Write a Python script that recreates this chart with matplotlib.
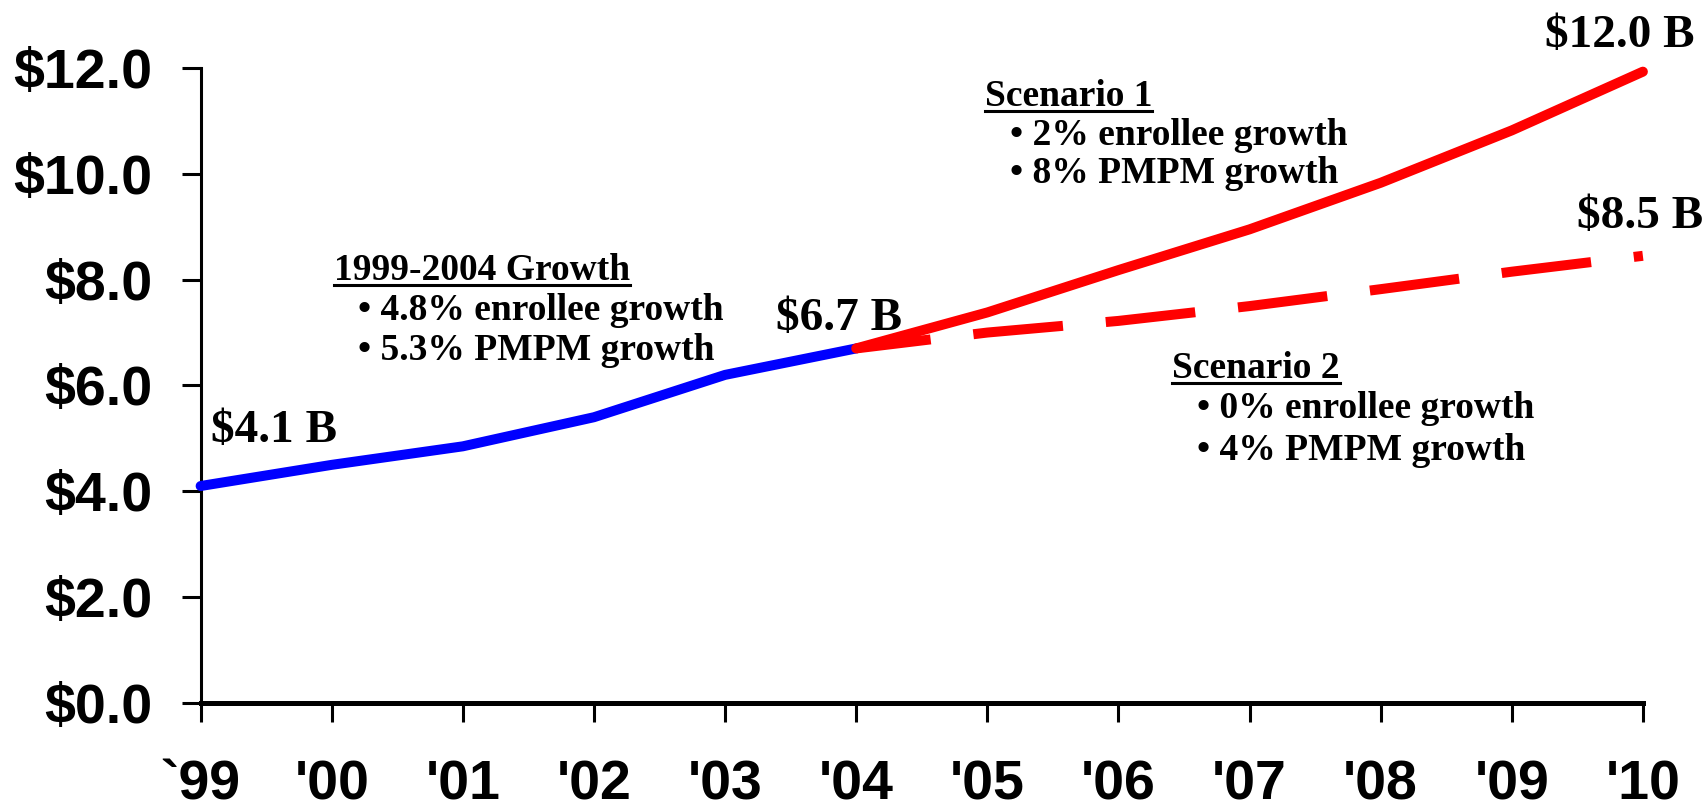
import numpy as np
import matplotlib
matplotlib.use("Agg")
import matplotlib.pyplot as plt
from matplotlib.lines import Line2D

# years on the x axis ('99 .. '10)
year_labels = ["`99", "'00", "'01", "'02", "'03", "'04", "'05", "'06", "'07", "'08", "'09", "'10"]
years_hist = [0, 1, 2, 3, 4, 5]
years_proj = [5, 6, 7, 8, 9, 10, 11]

# spending, $ billions
hist = [4.1, 4.5, 4.85, 5.4, 6.2, 6.7]
scen1 = [6.7, 7.38, 8.18, 8.95, 9.83, 10.82, 11.93]
scen2 = [6.7, 7.0, 7.22, 7.5, 7.82, 8.15, 8.45]

yticks = [0, 2, 4, 6, 8, 10, 12]

fig = plt.figure(figsize=(17.06, 8.11), dpi=100)
ax = fig.add_axes([0.1176, 0.1332, 0.8454, 0.7830])

lw = 7.2
ax.plot(years_hist, hist, color="#0000FF", lw=lw, solid_capstyle="round",
        solid_joinstyle="round", clip_on=False, zorder=3)
ax.plot(years_proj, scen2, color="#FF0000", lw=lw, linestyle=(1.5, (9, 4.3)),
        dash_capstyle="butt", clip_on=False, zorder=4)
ax.plot(years_proj, scen1, color="#FF0000", lw=lw, solid_capstyle="round",
        solid_joinstyle="round", clip_on=False, zorder=5)

ax.set_xlim(0, 11)
ax.set_ylim(0, 12)
ax.spines["top"].set_visible(False)
ax.spines["right"].set_visible(False)
ax.spines["left"].set_linewidth(2.2)
ax.spines["bottom"].set_linewidth(3.6)

tickfont = dict(family="Liberation Sans", weight="bold", size=40)
ax.set_xticks(range(len(year_labels)))
ax.set_xticklabels(year_labels, **tickfont)
ax.set_yticks(yticks)
ax.set_yticklabels([r"\$%.1f" % v for v in yticks], **tickfont)
ax.tick_params(axis="x", direction="out", length=13.7, width=2.2, pad=27)
ax.tick_params(axis="y", direction="out", length=13.7, width=2.2, pad=21)

serif = "Liberation Serif"
big = dict(family=serif, weight="bold", size=34, ha="left", va="baseline")
ax.text(0.08, 4.94, r"\$4.1 B", **big)
ax.text(4.39, 7.05, r"\$6.7 B", **big)
ax.text(10.25, 12.40, r"\$12.0 B", clip_on=False, **big)
ax.text(10.50, 8.98, r"\$8.5 B", clip_on=False, **big)

small = dict(family=serif, weight="bold", size=27, ha="left", va="baseline")
headers = []
headers.append(ax.text(1.02, 7.99, "1999-2004 Growth", **small))
ax.text(1.20, 7.24, "\u2022 4.8% enrollee growth", **small)
ax.text(1.20, 6.48, "\u2022 5.3% PMPM growth", **small)

headers.append(ax.text(5.98, 11.29, "Scenario 1", **small))
ax.text(6.17, 10.54, "\u2022 2% enrollee growth", **small)
ax.text(6.17, 9.83, "\u2022 8% PMPM growth", **small)

headers.append(ax.text(7.41, 6.14, "Scenario 2", **small))
ax.text(7.60, 5.39, "\u2022 0% enrollee growth", **small)
ax.text(7.60, 4.59, "\u2022 4% PMPM growth", **small)

# underline the headers
fig.canvas.draw()
renderer = fig.canvas.get_renderer()
for t in headers:
    bb = t.get_window_extent(renderer)
    base = ax.transData.transform(t.get_position())[1]
    y = base - 5
    fig.add_artist(Line2D([bb.x0, bb.x1], [y, y], transform=None,
                          color="black", lw=2.2))

fig.savefig("out.png", dpi=100)
